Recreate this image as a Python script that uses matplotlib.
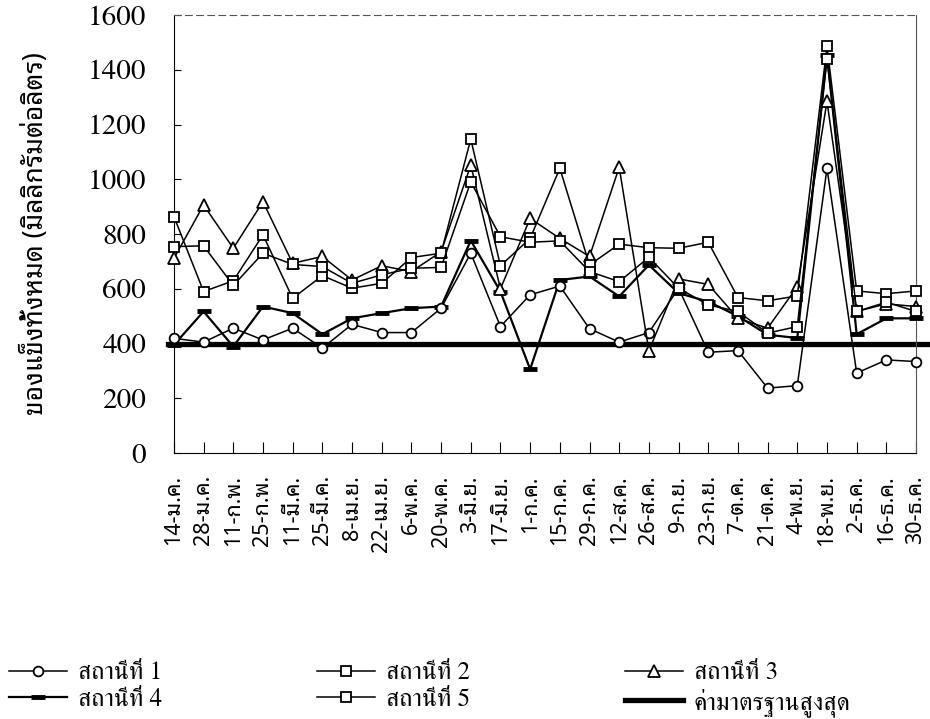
import matplotlib
matplotlib.use("Agg")
import matplotlib.pyplot as plt
from matplotlib.lines import Line2D

dates = ["14-ม.ค.", "28-ม.ค.", "11-ก.พ.", "25-ก.พ.", "11-มี.ค.", "25-มี.ค.",
         "8-เม.ย.", "22-เม.ย.", "6-พ.ค.", "20-พ.ค.", "3-มิ.ย.", "17-มิ.ย.",
         "1-ก.ค.", "15-ก.ค.", "29-ก.ค.", "12-ส.ค.", "26-ส.ค.", "9-ก.ย.",
         "23-ก.ย.", "7-ต.ค.", "21-ต.ค.", "4-พ.ย.", "18-พ.ย.", "2-ธ.ค.",
         "16-ธ.ค.", "30-ธ.ค."]

station1 = [419, 405, 456, 413, 456, 383, 470, 440, 440, 529, 730, 462, 578,
            610, 454, 405, 440, 602, 368, 374, 237, 246, 1040, 292, 340, 334]
station2 = [864, 590, 629, 797, 565, 648, 602, 620, 714, 730, 1147, 684, 784,
            1040, 687, 763, 750, 748, 770, 568, 556, 574, 1486, 592, 582, 592]
station3 = [711, 906, 748, 918, 693, 718, 632, 684, 663, 735, 1052, 600, 857,
            784, 718, 1044, 373, 636, 616, 492, 456, 608, 1285, 517, 545, 535]
station4 = [395, 517, 389, 535, 511, 434, 492, 511, 529, 535, 776, 590, 306,
            632, 645, 572, 687, 584, 553, 500, 432, 420, 1454, 434, 492, 492]
station5 = [754, 757, 612, 730, 689, 681, 620, 651, 675, 678, 991, 790, 770,
            775, 663, 626, 715, 602, 541, 517, 438, 462, 1441, 517, 551, 517]
standard = 400

labels = ["สถานีที่ 1", "สถานีที่ 2", "สถานีที่ 3", "สถานีที่ 4", "สถานีที่ 5",
          "ค่ามาตรฐานสูงสุด"]
ylabel = "ของแข็งทั้งหมด (มิลลิกรัมต่อลิตร)"
yticks = [0, 200, 400, 600, 800, 1000, 1200, 1400, 1600]

serif = ["FreeSerif", "DejaVu Serif"]
thai_sans = ["Noto Sans Thai Looped", "DejaVu Sans"]

fig = plt.figure(figsize=(9.3, 7.19), dpi=100)
ax = fig.add_axes([0.187, 0.370, 0.798, 0.609])

x = list(range(len(dates)))
mk = dict(color="black", markerfacecolor="white", markeredgecolor="black",
          markeredgewidth=1.3, clip_on=False)
ax.plot(x, station1, lw=1.1, marker="o", markersize=7, zorder=4, **mk)
ax.plot(x, station2, lw=1.1, marker="s", markersize=7.5, zorder=5, **mk)
ax.plot(x, station3, lw=1.1, marker="^", markersize=8.5, zorder=4, **mk)
ax.plot(x, station4, lw=1.6, color="black", marker="_", markersize=10,
        markeredgewidth=3.5, zorder=3, clip_on=False)
ax.plot(x, station5, lw=1.1, marker="s", markersize=7.5, zorder=5, **mk)
ax.axhline(standard, xmin=-0.008, xmax=1.02, color="black", lw=3.8,
           zorder=2, clip_on=False)

ax.set_xlim(0, len(dates) - 1)
ax.set_ylim(0, 1600)
ax.set_yticks(yticks)
ax.set_yticklabels([str(v) for v in yticks], family=serif, fontsize=21)
ax.set_xticks(x)
ax.set_xticklabels(dates, rotation=90, family=thai_sans, fontsize=15.5)
ax.tick_params(axis="y", direction="in", length=5, width=0.8, pad=20)
ax.tick_params(axis="x", direction="in", length=8, width=0.8, pad=16)
ax.set_ylabel(ylabel, family=thai_sans, fontsize=19, labelpad=27)

for side in ["left", "bottom", "right"]:
    ax.spines[side].set_linewidth(0.8)
ax.spines["right"].set_color("#555555")
ax.spines["top"].set_linewidth(0.8)
ax.spines["top"].set_linestyle((0, (6, 4)))
ax.spines["top"].set_color("#555555")

h1 = Line2D([], [], lw=1.1, marker="o", markersize=7, **mk)
h2 = Line2D([], [], lw=1.1, marker="s", markersize=7, **mk)
h3 = Line2D([], [], lw=1.1, marker="^", markersize=8, **mk)
h4 = Line2D([], [], lw=1.6, color="black", marker="_", markersize=10,
            markeredgewidth=3.5)
h5 = Line2D([], [], lw=1.1, marker="s", markersize=7, **mk)
h6 = Line2D([], [], lw=3.8, color="black")
handles = [h1, h4, h2, h5, h3, h6]
order = [labels[0], labels[3], labels[1], labels[4], labels[2], labels[5]]
fig.legend(handles, order, loc="upper left", bbox_to_anchor=(0.01, 0.08),
           ncol=3, frameon=False, borderaxespad=0, borderpad=0,
           handlelength=2.3, handletextpad=0.45, columnspacing=6.2,
           labelspacing=0.1, prop={"family": serif, "size": 18})

fig.savefig("out.png", dpi=100)
